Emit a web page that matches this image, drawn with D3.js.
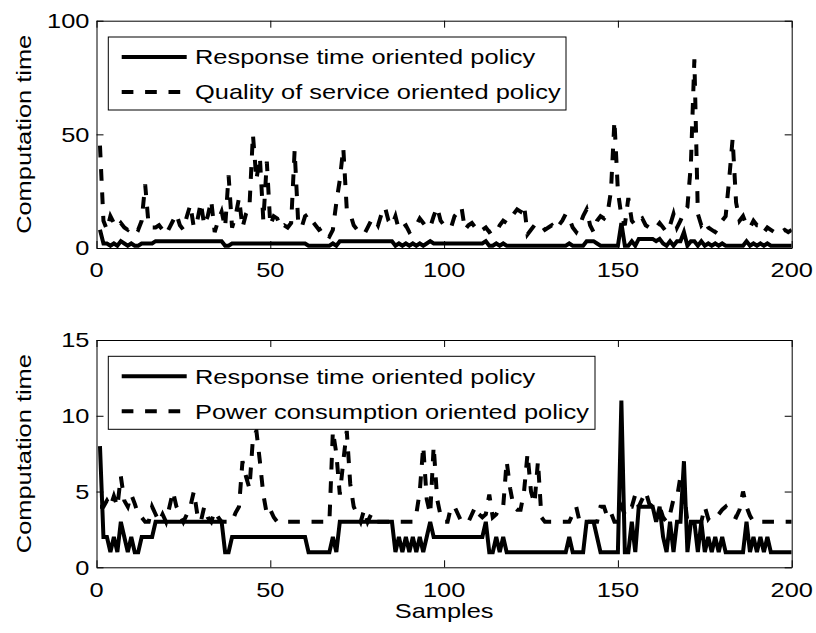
<!DOCTYPE html>
<html><head><meta charset="utf-8">
<script src="https://cdn.jsdelivr.net/npm/d3@7"></script>
<style>body{margin:0;background:#fff}svg{display:block}</style>
</head><body>
<script>
// ---------- DATA ----------
const samples = d3.range(1, 201);
const xTicks = [0, 50, 100, 150, 200];
const yTicksTop = [0, 50, 100];
const yTicksBottom = [0, 5, 10, 15];
const legendTop = ["Response time oriented policy", "Quality of service oriented policy"];
const legendBottom = ["Response time oriented policy", "Power consumption oriented policy"];
const yLabel = "Computation time";
const xLabel = "Samples";

const responseTime = [
 8,2,2,1,2,1,3,2,1,2, 1,1,2,2,2,2,3,3,3,3, 3,3,3,3,3,3,3,3,3,3, 3,3,3,3,3,3,1,1,2,2,
 2,2,2,2,2,2,2,2,2,2, 2,2,2,2,2,2,2,2,2,2, 1,1,1,1,1,1,1,2,1,3, 3,3,3,3,3,3,3,3,3,3,
 3,3,3,3,3,1,2,1,2,1, 2,1,2,1,2,3,2,2,2,2, 2,2,2,2,2,2,2,2,2,2, 2,3,1,1,2,1,2,1,1,1,
 1,1,1,1,1,1,1,1,1,1, 1,1,1,1,1,2,1,1,1,1, 3,3,3,2,1,1,1,1,1,1, 11,1,1,3,1,4,4,4,4,4,
 3,4,2,1,3,1,3,3,7,1, 3,3,1,3,1,2,1,2,1,2, 1,1,1,1,1,1,3,1,2,1, 2,1,2,1,1,1,1,1,1,1
];
const qualityOfService = [
 45,12,8,14,11,9,11,9,8,10, 9,8,12,28,10,9,9,10,8,6, 9,12,15,10,8,14,19,9,12,20, 10,14,21,7,12,16,9,32,9,14,
 22,9,15,18,50,30,40,12,38,10, 14,13,9,10,9,11,43,12,9,14, 15,12,10,8,9,6,5,8,20,30, 44,17,15,10,8,7,6,9,12,13,
 10,15,18,12,10,14,8,9,10,7, 8,10,13,11,9,9,14,18,12,10, 9,9,14,16,18,8,10,11,9,10, 8,9,7,8,7,10,12,11,13,15,
 17,16,19,6,8,10,9,10,8,9, 10,8,10,12,15,13,9,7,10,14, 17,10,7,12,14,13,15,25,56,25, 14,10,22,12,10,12,13,10,9,8,
 9,11,9,7,10,15,9,12,16,18, 37,83,15,10,12,9,8,7,9,12, 14,30,48,20,12,14,10,9,12,10, 10,7,9,8,7,6,7,8,7,8
];
const powerConsumption = [
 4,4,4.4,4,4.7,4,6,4.4,4,4.8, 4.2,3.5,3.3,3,3,4,3.5,3,3.5,3, 4,5,4,3.5,3,3.5,4,5,3.5,3, 4,3.3,3,3.7,3.3,3,3,3,3,3.6,
 4,7,6,5.2,8.5,9,7,4.8,3.5,3.8, 3.3,3,3,3,3,3,3,3,3,3, 3,3,3,3,3,3,3,9,7.5,4.8, 7,9,5.5,4,3.5,3,3.8,3,3.5,3,
 3,3,3,3,3,3,3,3,3,3, 3,3.5,5,8,4.5,3.5,8,4.5,3.4,3, 3,4,4,3.5,3,3,3,3.5,4,3.5, 3.3,3.5,4.8,3.3,3.5,4,4,7,5.2,4,
 3.8,3.8,5,7.5,5,4.2,7,3.3,3,3, 3,3,3,3,3,3,3.5,4,3,3, 3,3,3,3,4,4,3.3,3.6,3,3, 4,3.5,4,4,4.8,4,4.5,5,4.2,4,
 4,4,3.3,3,3.5,4.5,4.6,6,5,3, 3,3,3,3,4,3.2,3.5,3.4,3.5,3.8, 4,3.6,3.4,3.3,3.8,5,4,3.4,3,3, 3,3,3,3,3,3,3,3,3,3
];

// ---------- LAYOUT ----------
const W = 816, H = 633;
const FS = 21, SX = 1.21;
const FONT = "'Liberation Sans', Arial, Helvetica, sans-serif";
const LW = 4, DASH = "11.7,11.7";

const svg = d3.select("body").append("svg").attr("width", W).attr("height", H)
  .style("font-family", FONT);
svg.append("rect").attr("width", W).attr("height", H).attr("fill", "#fff");

function txt(g, x, y, s, anchor, rot) {
  return g.append("text")
    .attr("transform", `translate(${x},${y})` + (rot ? " rotate(-90)" : "") + ` scale(${SX},1)`)
    .attr("text-anchor", anchor).attr("dominant-baseline", "central")
    .attr("font-size", FS).attr("fill", "#000").text(s);
}

function panel(id, top, bottom, yMax, yTicks, s1, s2, labels, legendWidth) {
  const left = 96.5, right = 791.7;
  const x = d3.scaleLinear().domain([0, 200]).range([left, right]);
  const y = d3.scaleLinear().domain([0, yMax]).range([bottom, top]);
  const g = svg.append("g");
  g.append("clipPath").attr("id", id).append("rect")
    .attr("x", left).attr("y", top).attr("width", right - left).attr("height", bottom - top);

  const line = d3.line().x((d, i) => x(samples[i])).y(d => y(d));
  const pg = g.append("g").attr("clip-path", `url(#${id})`);
  pg.append("path").datum(s2).attr("d", line).attr("fill", "none").attr("stroke", "#000")
    .attr("stroke-width", LW).attr("stroke-dasharray", DASH).attr("stroke-linejoin", "miter");
  pg.append("path").datum(s1).attr("d", line).attr("fill", "none").attr("stroke", "#000")
    .attr("stroke-width", LW).attr("stroke-linejoin", "miter");

  const tl = 7;
  const axB = d3.axisBottom(x).tickValues(xTicks).tickSizeInner(-tl).tickSizeOuter(0).tickFormat("");
  const axT = d3.axisTop(x).tickValues(xTicks).tickSizeInner(-tl).tickSizeOuter(0).tickFormat("");
  const axL = d3.axisLeft(y).tickValues(yTicks).tickSizeInner(-tl).tickSizeOuter(0).tickFormat("");
  const axR = d3.axisRight(y).tickValues(yTicks).tickSizeInner(-tl).tickSizeOuter(0).tickFormat("");
  [[axB, `translate(0,${bottom})`], [axT, `translate(0,${top})`], [axL, `translate(${left},0)`], [axR, `translate(${right},0)`]]
    .forEach(([a, tr]) => {
      const ag = g.append("g").attr("transform", tr).call(a);
      ag.selectAll("line").attr("stroke", "#000").attr("stroke-width", 1);
      ag.selectAll("path").attr("stroke", "#000").attr("stroke-width", 1);
    });

  xTicks.forEach(v => txt(g, x(v), bottom + 22, String(v), "middle"));
  yTicks.forEach(v => txt(g, left - 7, y(v), String(v), "end"));
  txt(g, 24, (top + bottom) / 2, yLabel, "middle", true);

  const lx = 108.3, lTop = bottom - 211, lh = 73;
  const lg = g.append("g");
  lg.append("rect").attr("x", lx).attr("y", lTop).attr("width", legendWidth).attr("height", lh)
    .attr("fill", "#fff").attr("stroke", "#000").attr("stroke-width", 1);
  [[20, null], [55, DASH]].forEach(([dy, da], i) => {
    const l = lg.append("line").attr("x1", 121.7).attr("x2", 186.7)
      .attr("y1", lTop + dy).attr("y2", lTop + dy).attr("stroke", "#000").attr("stroke-width", LW);
    if (da) l.attr("stroke-dasharray", da);
    txt(lg, 195, lTop + dy, labels[i], "start");
  });
}

panel("c1", 20.7, 248, 100, yTicksTop, responseTime, qualityOfService, legendTop, 457.7);
panel("c2", 340, 567.3, 15, yTicksBottom, responseTime, powerConsumption, legendBottom, 486.7);
txt(svg, (96.5 + 791.7) / 2, 611, xLabel, "middle");
</script>
</body></html>
